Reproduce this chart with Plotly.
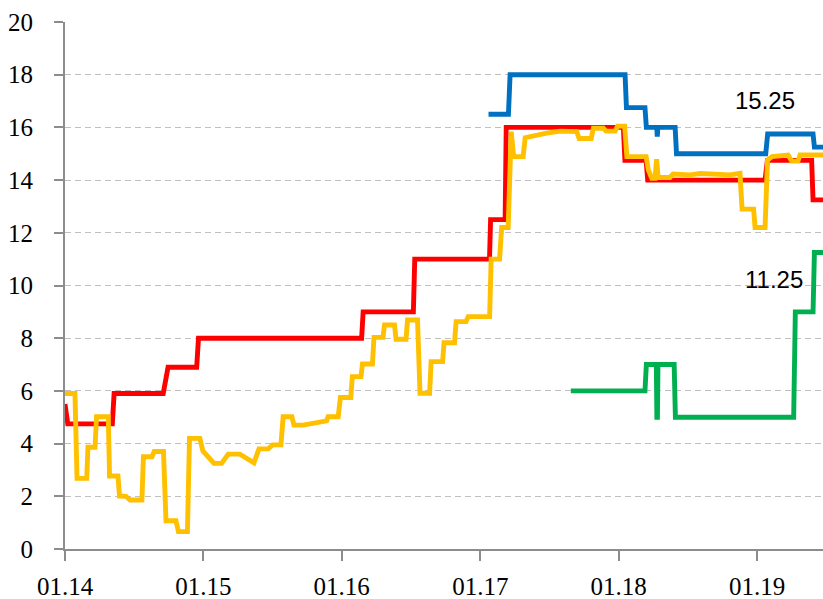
import datetime as dt
import plotly.graph_objects as go

# ---- data (time as decimal years, values in %) ----
red_t = [2014.000, 2014.020, 2014.342, 2014.355, 2014.710, 2014.745, 2014.952, 2014.965,
         2016.144, 2016.155, 2016.517, 2016.527, 2017.066, 2017.074, 2017.179, 2017.187,
         2018.034, 2018.045, 2018.198, 2018.210, 2019.058, 2019.075, 2019.395, 2019.405, 2019.477]
red_v = [5.5, 4.75, 4.75, 5.9, 5.9, 6.9, 6.9, 8.0,
         8.0, 9.0, 9.0, 11.0, 11.0, 12.5, 12.5, 16.0,
         16.0, 14.75, 14.75, 14.0, 14.0, 14.75, 14.75, 13.25, 13.25]

blue_t = [2017.059, 2017.203, 2017.215, 2018.046, 2018.056, 2018.190, 2018.200, 2018.275,
          2018.279, 2018.283, 2018.408, 2018.418, 2019.063, 2019.077, 2019.405, 2019.415, 2019.477]
blue_v = [16.5, 16.5, 18.0, 18.0, 16.75, 16.75, 16.0, 16.0,
          15.65, 16.0, 16.0, 15.0, 15.0, 15.75, 15.75, 15.25, 15.25]

green_t = [2017.654, 2018.190, 2018.200, 2018.272, 2018.276, 2018.280, 2018.284, 2018.401,
           2018.410, 2019.265, 2019.277, 2019.405, 2019.415, 2019.477]
green_v = [6.0, 6.0, 7.0, 7.0, 5.0, 5.0, 7.0, 7.0,
           5.0, 5.0, 9.0, 9.0, 11.25, 11.25]

yellow_t = [2014.000, 2014.072, 2014.087, 2014.157, 2014.166, 2014.217, 2014.228, 2014.313,
            2014.322, 2014.383, 2014.394, 2014.441, 2014.470, 2014.556, 2014.567, 2014.629,
            2014.645, 2014.712, 2014.730, 2014.802, 2014.820, 2014.885, 2014.900, 2014.975,
            2014.997, 2015.077, 2015.132, 2015.180, 2015.264, 2015.366, 2015.402, 2015.469,
            2015.501, 2015.561, 2015.577, 2015.640, 2015.655, 2015.722, 2015.891, 2015.902,
            2015.975, 2015.991, 2016.066, 2016.077, 2016.139, 2016.150, 2016.222, 2016.233,
            2016.298, 2016.309, 2016.381, 2016.392, 2016.464, 2016.475, 2016.547, 2016.565,
            2016.634, 2016.645, 2016.728, 2016.738, 2016.814, 2016.825, 2016.897, 2016.912,
            2017.067, 2017.078, 2017.139, 2017.154, 2017.201, 2017.223, 2017.241, 2017.309,
            2017.324, 2017.408, 2017.480, 2017.577, 2017.697, 2017.714, 2017.801, 2017.817,
            2017.889, 2017.909, 2017.974, 2017.992, 2018.043, 2018.059, 2018.198, 2018.215,
            2018.239, 2018.263, 2018.274, 2018.285, 2018.371, 2018.393, 2018.516, 2018.588,
            2018.733, 2018.805, 2018.877, 2018.892, 2018.975, 2018.986, 2019.058, 2019.076,
            2019.108, 2019.181, 2019.224, 2019.251, 2019.296, 2019.311, 2019.477]
yellow_v = [5.9, 5.9, 2.68, 2.68, 3.86, 3.86, 5.02, 5.02,
            2.77, 2.77, 2.01, 2.0, 1.86, 1.86, 3.5, 3.5,
            3.7, 3.7, 1.07, 1.07, 0.66, 0.66, 4.2, 4.2,
            3.72, 3.25, 3.25, 3.6, 3.6, 3.27, 3.8, 3.8,
            3.95, 3.95, 5.02, 5.02, 4.7, 4.7, 4.86, 5.02,
            5.02, 5.75, 5.75, 6.54, 6.54, 7.02, 7.02, 8.03,
            8.03, 8.5, 8.5, 7.96, 7.96, 8.69, 8.69, 5.91,
            5.91, 7.11, 7.11, 7.83, 7.83, 8.63, 8.63, 8.82,
            8.82, 11.0, 11.0, 12.2, 12.2, 15.84, 14.89, 14.89,
            15.61, 15.71, 15.78, 15.86, 15.84, 15.58, 15.58, 15.97,
            15.97, 15.86, 15.86, 16.05, 16.05, 14.89, 14.89, 14.38,
            14.07, 14.07, 14.79, 14.1, 14.1, 14.23, 14.2, 14.25,
            14.22, 14.2, 14.26, 12.9, 12.9, 12.2, 12.2, 14.76,
            14.89, 14.95, 14.95, 14.72, 14.72, 14.95, 14.95]

x_start, x_end = 2014.0, 2019.477
y_ticks = [0, 2, 4, 6, 8, 10, 12, 14, 16, 18, 20]
label_blue = "15.25"
label_green = "11.25"


def to_date(y):
    year = int(y)
    start = dt.datetime(year, 1, 1)
    end = dt.datetime(year + 1, 1, 1)
    return start + (end - start) * (y - year)


def dates(ts):
    return [to_date(t) for t in ts]


fig = go.Figure()
series = [
    (blue_t, blue_v, "#0070C0"),
    (green_t, green_v, "#00B050"),
    (red_t, red_v, "#FF0000"),
    (yellow_t, yellow_v, "#FFC000"),
]
for ts, vs, col in series:
    fig.add_trace(go.Scatter(x=dates(ts), y=vs, mode="lines",
                             line=dict(color=col, width=4.9),
                             showlegend=False, hoverinfo="skip", cliponaxis=True))

fig.add_annotation(x=to_date(2019.058), y=17.04, text=label_blue, showarrow=False,
                   font=dict(family="Liberation Sans", size=24, color="#000000"))
fig.add_annotation(x=to_date(2019.123), y=10.23, text=label_green, showarrow=False,
                   font=dict(family="Liberation Sans", size=24, color="#000000"))

axis_col = "#8C8C8C"
fig.update_layout(
    width=823, height=599,
    margin=dict(l=65, r=0, t=22, b=50, autoexpand=False),
    paper_bgcolor="white", plot_bgcolor="white",
    font=dict(family="Liberation Serif", size=25, color="#000000"),
)
fig.update_xaxes(
    type="date", automargin=False,
    range=[to_date(x_start), to_date(x_end)],
    tick0="2014-01-01", dtick="M12", tickformat="%m.%y",
    showgrid=False, zeroline=False,
    showline=True, linecolor=axis_col, linewidth=2,
    ticks="outside", ticklen=10, tickwidth=2, tickcolor=axis_col,
    ticklabelstandoff=4,
)
fig.update_yaxes(
    automargin=False,
    range=[0, 20], tickvals=y_ticks,
    showgrid=True, gridcolor="#C0C0C0", gridwidth=1.3, griddash="6px,4px",
    zeroline=False,
    showline=True, linecolor=axis_col, linewidth=2,
    ticks="outside", ticklen=9, tickwidth=2, tickcolor=axis_col,
    ticklabelstandoff=16,
)

fig.write_html(
    "out.html",
    config={"displayModeBar": False},
    post_script="document.body.style.margin='0';document.body.style.overflow='hidden';",
)
